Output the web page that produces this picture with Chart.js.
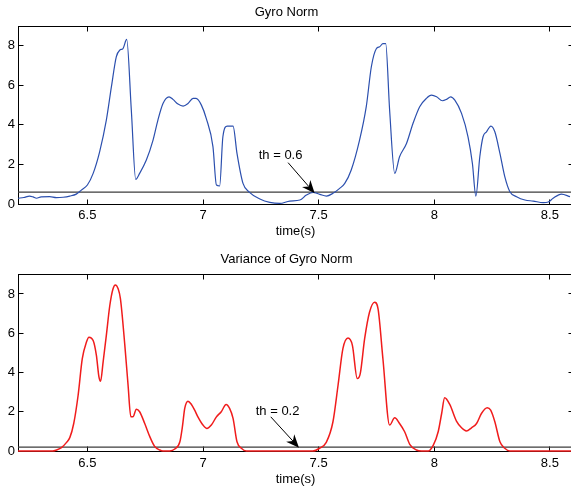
<!DOCTYPE html>
<html>
<head>
<meta charset="utf-8">
<script src="https://cdn.jsdelivr.net/npm/chart.js@4.4.1/dist/chart.umd.min.js"></script>
<style>
    html, body { margin: 0; padding: 0; background: #fff; overflow: hidden; }
    #wrap { width: 571px; height: 490px; overflow: hidden; }
    canvas { display: block; }
</style>
</head>
<body>
<div id="wrap">
    <canvas id="gyroChart" width="575" height="245"></canvas>
    <canvas id="varChart" width="575" height="245"></canvas>
</div>
<script>
// time axis shared by both panels
const xMin = 6.2;
const xMax = 8.6;
const xTicks = [6.5, 7, 7.5, 8, 8.5];
const yTicks = [0, 2, 4, 6, 8];

// gyro norm samples
const gyroTimes = [
    6.200, 6.225, 6.250, 6.265, 6.280, 6.300, 6.337, 6.366, 6.395, 6.424,
    6.452, 6.474, 6.500, 6.525, 6.553, 6.582, 6.604, 6.625, 6.640, 6.654,
    6.670, 6.690, 6.709, 6.726, 6.755, 6.784, 6.805, 6.827, 6.853, 6.870,
    6.892, 6.914, 6.935, 6.957, 6.970, 6.993, 7.014, 7.043, 7.058, 7.072,
    7.086, 7.105, 7.130, 7.147, 7.173, 7.200, 7.246, 7.289, 7.332, 7.375,
    7.419, 7.447, 7.476, 7.505, 7.534, 7.562, 7.591, 7.613, 7.641, 7.677,
    7.706, 7.728, 7.750, 7.764, 7.778, 7.790, 7.807, 7.829, 7.850, 7.880,
    7.908, 7.937, 7.966, 7.988, 8.010, 8.035, 8.053, 8.071, 8.089, 8.118,
    8.146, 8.165, 8.180, 8.197, 8.211, 8.226, 8.245, 8.262, 8.284, 8.305,
    8.327, 8.356, 8.392, 8.428, 8.471, 8.493, 8.514, 8.550, 8.587
];
const gyroValues = [
    0.29, 0.33, 0.40, 0.36, 0.29, 0.36, 0.37, 0.32, 0.34, 0.40,
    0.50, 0.70, 0.96, 1.55, 2.64, 4.24, 5.93, 7.44, 7.78, 7.86,
    8.32, 4.75, 1.25, 1.55, 2.22, 3.23, 4.24, 5.08, 5.42, 5.29,
    5.05, 4.95, 5.08, 5.34, 5.34, 5.00, 4.33, 2.90, 0.96, 0.91,
    3.40, 3.94, 3.94, 2.56, 1.04, 0.60, 0.25, 0.08, 0.03, 0.15,
    0.20, 0.45, 0.59, 0.49, 0.40, 0.54, 0.79, 1.04, 1.72, 3.23,
    4.92, 6.94, 7.86, 7.95, 8.11, 8.11, 4.75, 1.55, 2.39, 3.06,
    4.07, 4.92, 5.34, 5.50, 5.42, 5.22, 5.29, 5.42, 5.25, 4.58,
    3.40, 2.05, 0.40, 2.39, 3.40, 3.65, 3.94, 3.65, 2.56, 1.38,
    0.62, 0.37, 0.20, 0.15, 0.07, 0.10, 0.29, 0.50, 0.37
];
const gyroThreshold = 0.6;

// variance of gyro norm samples
const varTimes = [
    6.200, 6.350, 6.366, 6.388, 6.410, 6.424, 6.441, 6.460, 6.478, 6.496,
    6.507, 6.525, 6.539, 6.550, 6.557, 6.568, 6.582, 6.597, 6.611, 6.621,
    6.633, 6.643, 6.662, 6.676, 6.688, 6.697, 6.712, 6.726, 6.748, 6.770,
    6.790, 6.813, 6.827, 6.856, 6.878, 6.900, 6.911, 6.921, 6.935, 6.950,
    6.964, 6.978, 7.000, 7.017, 7.036, 7.058, 7.079, 7.100, 7.115, 7.130,
    7.147, 7.166, 7.187, 7.475, 7.504, 7.533, 7.562, 7.584, 7.605, 7.627,
    7.646, 7.667, 7.680, 7.699, 7.720, 7.742, 7.757, 7.778, 7.807, 7.829,
    7.850, 7.872, 7.894, 7.923, 7.945, 7.974, 7.996, 8.017, 8.032, 8.045,
    8.067, 8.096, 8.118, 8.139, 8.161, 8.183, 8.204, 8.229, 8.244, 8.262,
    8.284, 8.305, 8.327, 8.600
];
const varValues = [
    0.00, 0.00, 0.05, 0.17, 0.44, 0.68, 1.40, 2.84, 4.70, 5.55,
    5.80, 5.63, 4.87, 3.77, 3.55, 4.53, 5.89, 7.41, 8.26, 8.46,
    8.26, 7.75, 5.38, 3.35, 1.74, 1.74, 2.13, 2.00, 1.40, 0.73,
    0.25, 0.05, 0.00, 0.00, 0.10, 0.47, 1.24, 2.17, 2.54, 2.37,
    2.08, 1.74, 1.32, 1.15, 1.32, 1.74, 2.00, 2.37, 2.17, 1.66,
    0.47, 0.14, 0.00, 0.00, 0.14, 0.44, 1.49, 3.35, 5.21, 5.75,
    5.38, 3.69, 3.94, 5.72, 7.07, 7.58, 7.24, 4.70, 1.32, 1.69,
    1.40, 0.98, 0.34, 0.05, 0.00, 0.00, 0.30, 0.98, 1.91, 2.71,
    2.37, 1.52, 1.18, 1.02, 1.18, 1.40, 1.91, 2.20, 2.08, 1.49,
    0.47, 0.14, 0.00, 0.00
];
const varThreshold = 0.2;

// threshold annotations: [text x, text y], [tail x, tail y, head x, head y]
const gyroLabelAt = [7.241, 2.47];
const gyroArrow = [7.368, 2.09, 7.483, 0.54];
const varLabelAt = [7.228, 2.03];
const varArrow = [7.293, 1.74, 7.415, 0.17];

const FONT = { family: '"Liberation Sans", Arial, Helvetica, sans-serif', size: 13, weight: 'normal' };

// box around the axes, inward ticks, and the threshold arrow
const framePlugin = {
    id: 'frame',
    beforeDatasetsDraw(chart) {
        const { ctx, chartArea: a, scales: { x, y } } = chart;
        const L = Math.floor(a.left) + 0.5, R = Math.floor(a.right) + 0.5;
        const T = Math.floor(a.top) + 0.5, B = Math.floor(a.bottom) + 0.5;
        ctx.save();
        ctx.strokeStyle = '#000';
        ctx.lineWidth = 1;
        ctx.strokeRect(L, T, R - L, B - T);
        ctx.beginPath();
        xTicks.forEach(v => {
            const px = Math.floor(x.getPixelForValue(v)) + 0.5;
            ctx.moveTo(px, B); ctx.lineTo(px, B - 5);
            ctx.moveTo(px, T); ctx.lineTo(px, T + 5);
        });
        yTicks.forEach(v => {
            const py = Math.floor(y.getPixelForValue(v)) + 0.5;
            ctx.moveTo(L, py); ctx.lineTo(L + 5, py);
            ctx.moveTo(R, py); ctx.lineTo(R - 5, py);
        });
        ctx.stroke();
        ctx.restore();
    },
    afterDraw(chart) {
        const { ctx, scales: { x, y } } = chart;
        const ann = chart.options.plugins.frame;
        ctx.save();
        ctx.fillStyle = '#000';
        ctx.font = `${FONT.size}px ${FONT.family}`;
        ctx.textAlign = 'left';
        ctx.textBaseline = 'middle';
        ctx.fillText(ann.text, x.getPixelForValue(ann.labelAt[0]), y.getPixelForValue(ann.labelAt[1]));

        const x0 = x.getPixelForValue(ann.arrow[0]), y0 = y.getPixelForValue(ann.arrow[1]);
        const x1 = x.getPixelForValue(ann.arrow[2]), y1 = y.getPixelForValue(ann.arrow[3]);
        const ang = Math.atan2(y1 - y0, x1 - x0);
        const len = 13, half = 5.5, notch = 9;
        const ux = Math.cos(ang), uy = Math.sin(ang);
        ctx.strokeStyle = '#000';
        ctx.lineWidth = 1;
        ctx.beginPath();
        ctx.moveTo(x0, y0);
        ctx.lineTo(x1 - ux * notch, y1 - uy * notch);
        ctx.stroke();
        ctx.beginPath();
        ctx.moveTo(x1, y1);
        ctx.lineTo(x1 - ux * len - uy * half, y1 - uy * len + ux * half);
        ctx.lineTo(x1 - ux * notch, y1 - uy * notch);
        ctx.lineTo(x1 - ux * len + uy * half, y1 - uy * len - ux * half);
        ctx.closePath();
        ctx.fill();
        ctx.restore();
    }
};

function toPoints(times, values) {
    return times.map((t, i) => ({ x: t, y: values[i] }));
}

function buildChart(id, cfg) {
    const ctx = document.getElementById(id).getContext('2d');
    return new Chart(ctx, {
        type: 'line',
        data: {
            datasets: [
                {
                    data: toPoints(cfg.times, cfg.values),
                    borderColor: cfg.color,
                    borderWidth: cfg.lineWidth,
                    pointRadius: 0,
                    cubicInterpolationMode: 'monotone',
                    clip: 3
                },
                {
                    data: [{ x: xMin, y: cfg.threshold }, { x: xMax, y: cfg.threshold }],
                    borderColor: '#3c3c3c',
                    borderWidth: 1.2,
                    pointRadius: 0,
                    clip: 3
                }
            ]
        },
        options: {
            responsive: false,
            animation: false,
            devicePixelRatio: 1,
            layout: { padding: { left: 0, right: 2, top: 0, bottom: 0 } },
            plugins: {
                legend: { display: false },
                tooltip: { enabled: false },
                title: {
                    display: true,
                    text: cfg.title,
                    color: '#000',
                    font: FONT,
                    padding: { top: cfg.titlePad[0], bottom: cfg.titlePad[1] }
                },
                frame: { text: cfg.label, labelAt: cfg.labelAt, arrow: cfg.arrow }
            },
            scales: {
                x: {
                    type: 'linear',
                    min: xMin,
                    max: xMax,
                    afterBuildTicks: s => { s.ticks = xTicks.map(v => ({ value: v })); },
                    afterFit: s => { s.height = cfg.xAxisHeight; },
                    grid: { display: false, drawTicks: false },
                    border: { display: false },
                    ticks: { padding: cfg.xTickPad, color: '#000', font: FONT, maxRotation: 0, autoSkip: false, callback: v => String(v) },
                    title: { display: true, text: 'time(s)', color: '#000', font: FONT, padding: { top: 0, bottom: cfg.xTitlePad } }
                },
                y: {
                    type: 'linear',
                    min: 0,
                    max: 9,
                    afterBuildTicks: s => { s.ticks = yTicks.map(v => ({ value: v })); },
                    afterFit: s => { s.width = 18; },
                    grid: { display: false, drawTicks: false },
                    border: { display: false },
                    ticks: { padding: 3, color: '#000', font: FONT, callback: v => String(v) }
                }
            }
        },
        plugins: [framePlugin]
    });
}

buildChart('gyroChart', {
    title: 'Gyro Norm',
    times: gyroTimes,
    values: gyroValues,
    threshold: gyroThreshold,
    color: '#2b4fae',
    lineWidth: 1.2,
    label: 'th = ' + gyroThreshold,
    labelAt: gyroLabelAt,
    arrow: gyroArrow,
    titlePad: [4.2, 6.2],
    xAxisHeight: 41,
    xTickPad: 4,
    xTitlePad: 5.5
});

buildChart('varChart', {
    title: 'Variance of Gyro Norm',
    times: varTimes,
    values: varValues,
    threshold: varThreshold,
    color: '#f01c1c',
    lineWidth: 1.5,
    label: 'th = ' + varThreshold,
    labelAt: varLabelAt,
    arrow: varArrow,
    titlePad: [6.2, 7.5],
    xAxisHeight: 39,
    xTickPad: 5,
    xTitlePad: 3
});
</script>
</body>
</html>
